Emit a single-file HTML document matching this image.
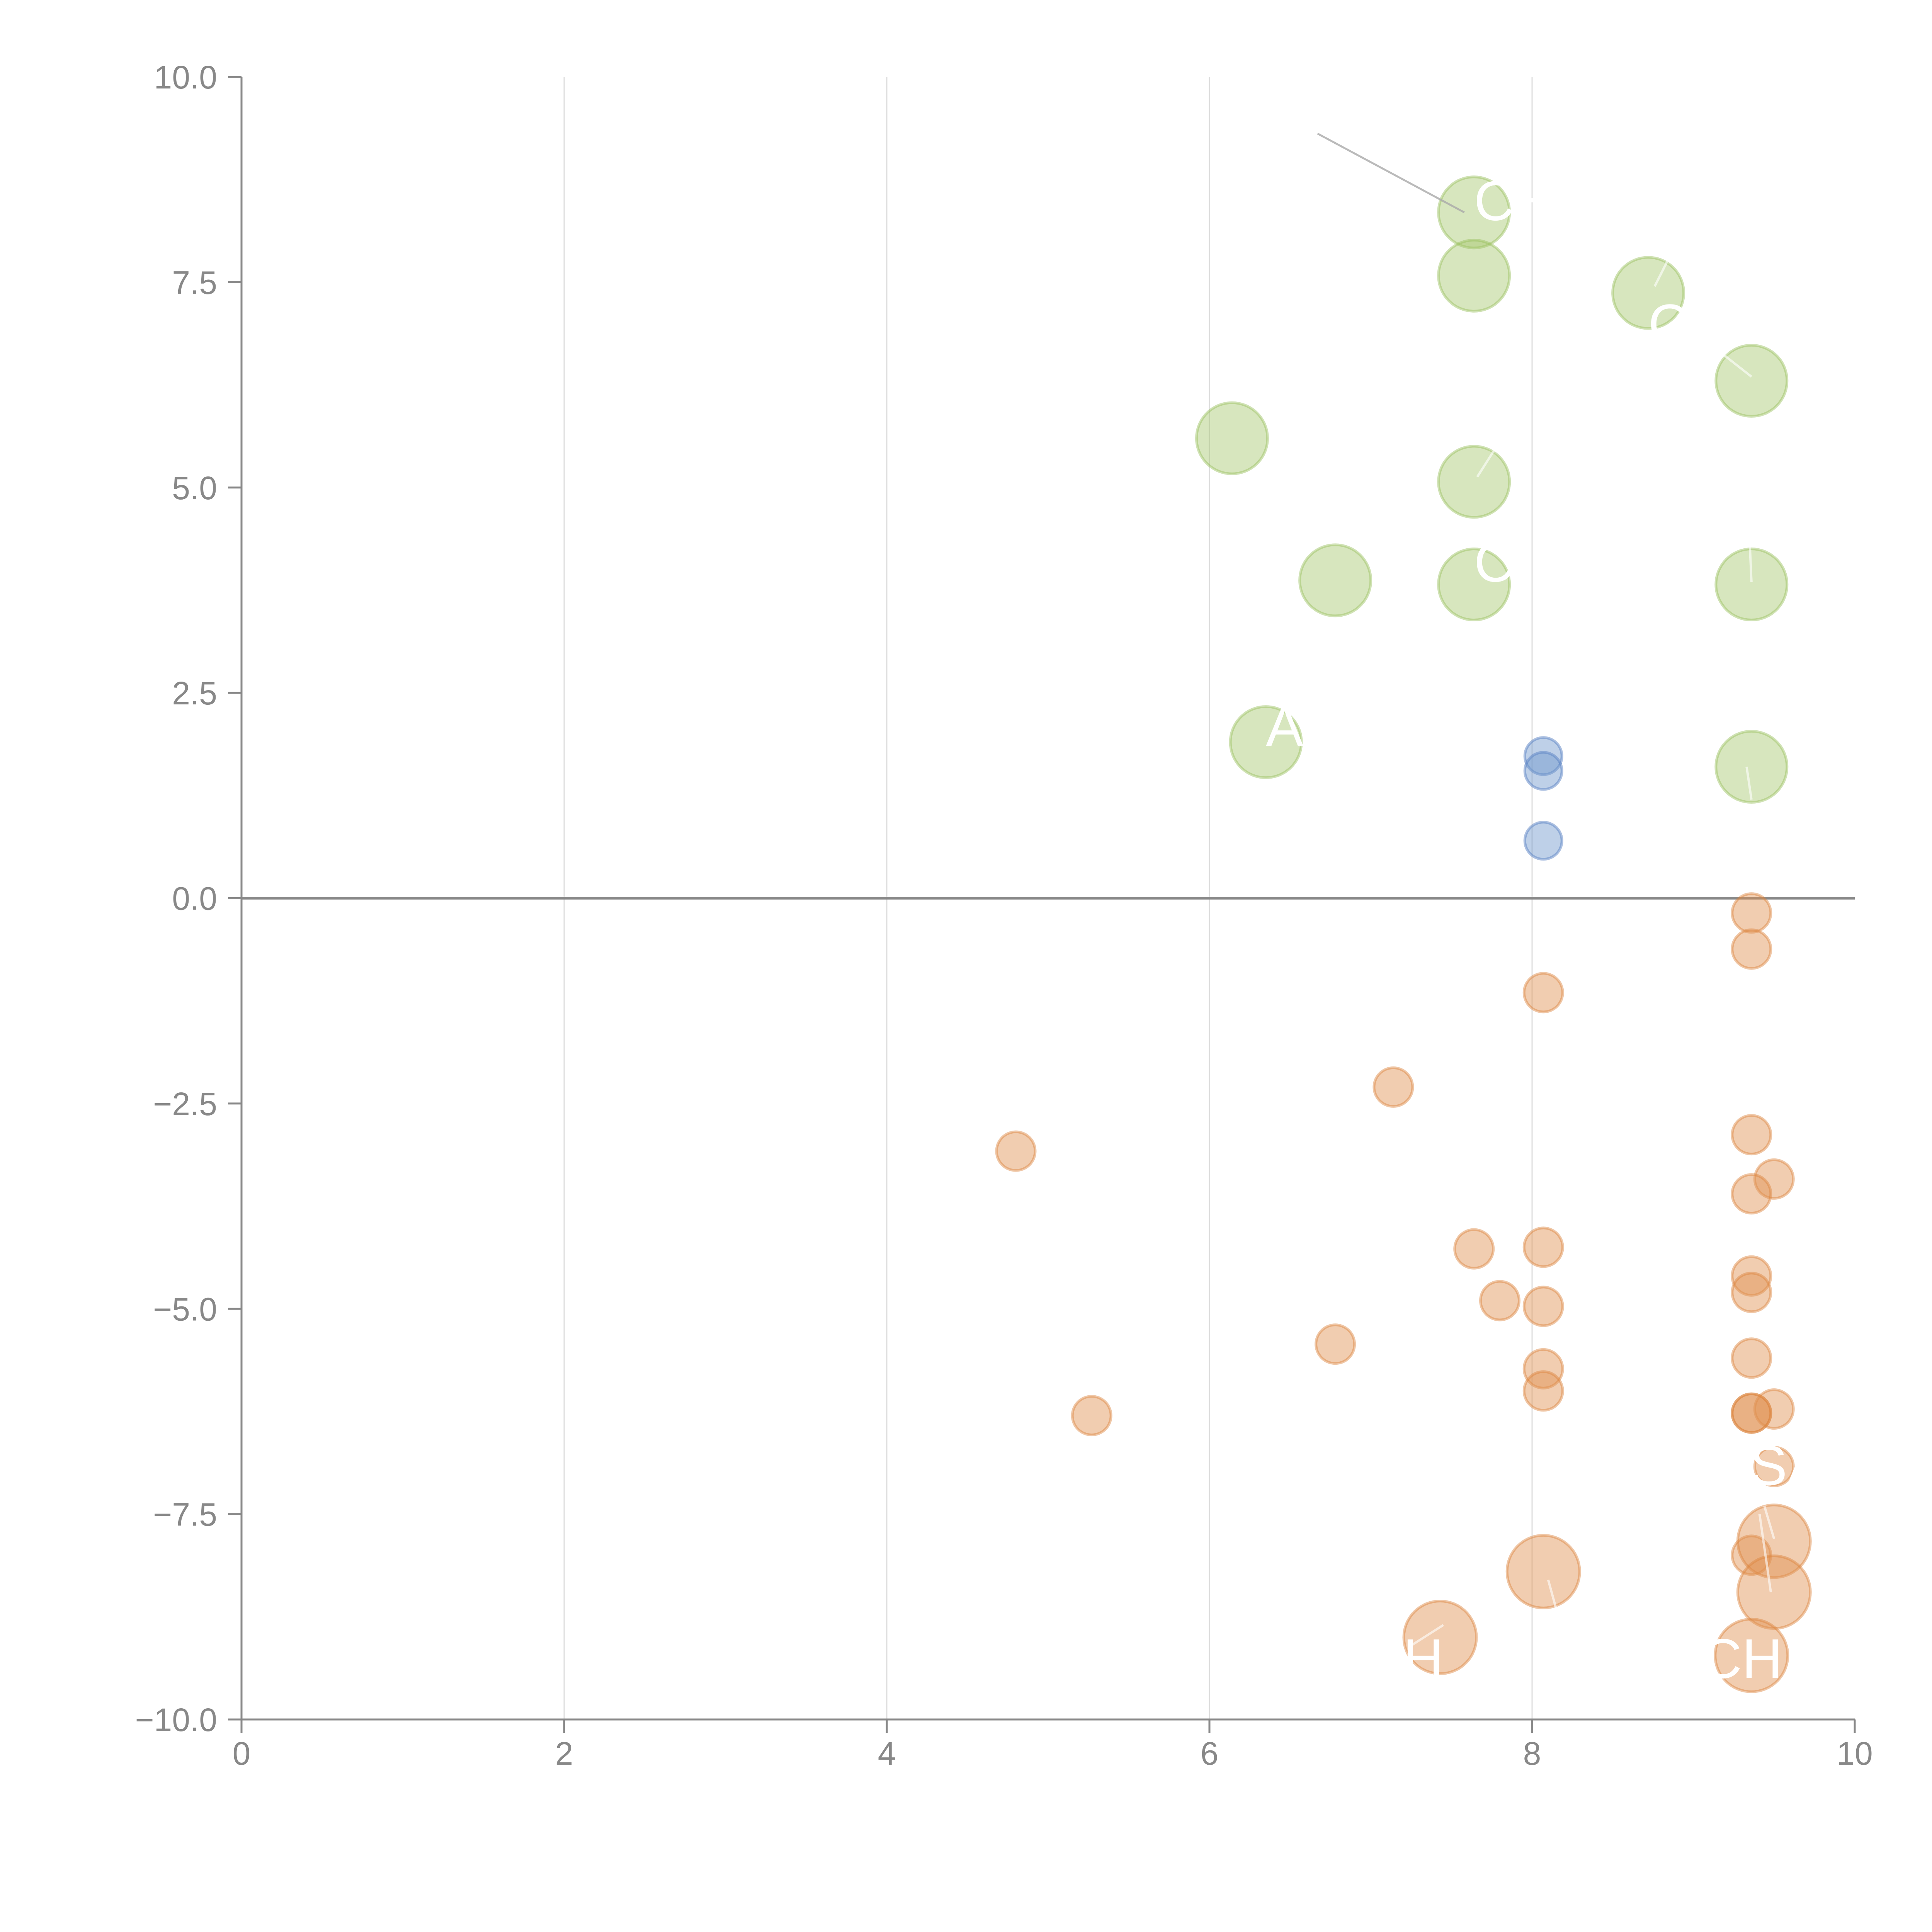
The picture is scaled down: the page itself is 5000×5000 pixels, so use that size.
<!DOCTYPE html>
<html><head><meta charset="utf-8">
<style>html,body{margin:0;padding:0;background:#fff;width:5000px;height:5000px;overflow:hidden}
svg{display:block;font-family:"Liberation Sans",sans-serif}</style></head>
<body>
<svg id="chart" width="5000" height="5000" viewBox="0 0 5000 5000" xmlns="http://www.w3.org/2000/svg"></svg>
<script>
const xTicks = [0, 2, 4, 6, 8, 10];
const xTickLabels = ["0", "2", "4", "6", "8", "10"];
const yTicks = [10, 7.5, 5, 2.5, 0, -2.5, -5, -7.5, -10];
const yTickLabels = ["10.0", "7.5", "5.0", "2.5", "0.0", "\u22122.5", "\u22125.0", "\u22127.5", "\u221210.0"];

const greenX = [7.64, 7.64, 8.72, 9.36, 6.14, 7.64, 6.78, 7.64, 9.36, 6.35, 9.36];
const greenY = [8.35, 7.58, 7.37, 6.30, 5.60, 5.07, 3.87, 3.82, 3.82, 1.90, 1.60];
const blueX = [8.07, 8.07, 8.07];
const blueY = [1.73, 1.55, 0.70];
const orangeX = [9.36, 9.36, 8.07, 7.14, 4.80, 9.36, 9.50, 9.36, 7.64, 8.07, 9.36, 9.36, 7.80, 8.07, 6.78, 9.36, 8.07, 8.07, 9.50, 9.36, 9.36, 5.27, 9.50, 9.36];
const orangeY = [-0.18, -0.62, -1.15, -2.30, -3.08, -2.88, -3.42, -3.60, -4.27, -4.25, -4.60, -4.80, -4.90, -4.97, -5.43, -5.60, -5.73, -6.00, -6.22, -6.27, -6.27, -6.30, -6.92, -8.00];
const orangeBigX = [9.50, 9.50, 8.07, 7.43, 9.36];
const orangeBigY = [-7.83, -8.45, -8.20, -9.00, -9.22];

const labelText = ["CH", "CH", "O", "C", "AL", "H", "CH", "SA"];
const labelX = [7.64, 8.72, 9.2, 7.64, 6.35, 7.2, 9.05, 9.35];
const labelY = [8.35, 6.85, 6.85, 3.95, 1.95, -9.4, -9.4, -7.05];

const NS = "http://www.w3.org/2000/svg";
const svg = document.getElementById("chart");
const X0 = 625, X1 = 4800, Y0 = 199, Y1 = 4450;
function sx(v) { return X0 + (v - 0) / 10 * (X1 - X0); }
function sy(v) { return Y1 - (v + 10) / 20 * (Y1 - Y0); }
function mk(tag, attrs) {
  const e = document.createElementNS(NS, tag);
  for (const k in attrs) e.setAttribute(k, attrs[k]);
  svg.appendChild(e);
  return e;
}

xTicks.forEach((t, i) => {
  if (t === 0 || t === 10) return;
  const g = mk("line", {x1: sx(t), x2: sx(t), y1: Y0, y2: Y1, stroke: "#dcdcdc", "stroke-width": 3});
  
  
});

const z = mk("line", {x1: X0, x2: X1, y1: sy(0), y2: sy(0), stroke: "#888", "stroke-width": 7});



const ya = mk("line", {x1: X0, x2: X0, y1: Y0, y2: Y1, stroke: "#888", "stroke-width": 5});


const xa = mk("line", {x1: X0, x2: X1, y1: Y1, y2: Y1, stroke: "#888", "stroke-width": 5});



xTicks.forEach((t, i) => {
  const tk = mk("line", {x1: sx(t), x2: sx(t), y1: Y1, y2: Y1 + 35, stroke: "#888", "stroke-width": 5});
  
  
  const tx = mk("text", {x: sx(t), y: Y1 + 117, "text-anchor": "middle", "font-size": 84, fill: "#888"});
  tx.textContent = xTickLabels[i];
  
  
});
yTicks.forEach((t, i) => {
  const tk = mk("line", {x1: X0 - 35, x2: X0, y1: sy(t), y2: sy(t), stroke: "#888", "stroke-width": 5});
  
  
  const tx = mk("text", {x: 562, y: sy(t) + 30, "text-anchor": "end", "font-size": 84, fill: "#888"});
  tx.textContent = yTickLabels[i];
  
  
});

function drawSeries(xs, ys, r, fill, stroke, name) {
  xs.forEach((x, i) => {
    const c = mk("circle", {cx: sx(x), cy: sy(ys[i]), r: r, fill: fill, stroke: stroke, "stroke-width": 7});
    
    
  });
}
drawSeries(greenX, greenY, 92, "rgba(160,196,100,0.42)", "rgba(150,190,90,0.45)", "green-bubble");
drawSeries(blueX, blueY, 48, "rgba(110,150,205,0.45)", "rgba(90,130,195,0.5)", "blue-bubble");
drawSeries(orangeX, orangeY, 50, "rgba(225,145,80,0.45)", "rgba(220,130,60,0.45)", "orange-bubble");
drawSeries(orangeBigX, orangeBigY, 94, "rgba(225,145,80,0.45)", "rgba(220,130,60,0.45)", "orange-large-bubble");

const lead = mk("line", {x1: sx(6.67), y1: sy(9.31), x2: sx(7.58), y2: sy(8.35), stroke: "#aaa", "stroke-width": 5, opacity: 0.8});


const wl = [[8.76,7.45,8.85,7.8],[9.36,6.35,9.12,6.72],[7.66,5.13,7.78,5.5],[9.36,3.85,9.35,4.3],[9.36,1.2,9.33,1.6],[8.17,-8.8,8.1,-8.3],[9.48,-8.45,9.41,-7.5],[9.5,-7.8,9.44,-7.4],[7.25,-9.1,7.45,-8.85]];
wl.forEach(l => {
  const e = mk("line", {x1: sx(l[0]), y1: sy(l[1]), x2: sx(l[2]), y2: sy(l[3]), stroke: "#fff", "stroke-width": 6, opacity: 0.6});
  
  
});

labelText.forEach((t, i) => {
  const e = mk("text", {x: sx(labelX[i]), y: sy(labelY[i]) + 20, "font-size": 145, fill: "#fff"});
  e.textContent = t;
  
  
});
</script>
</body></html>
